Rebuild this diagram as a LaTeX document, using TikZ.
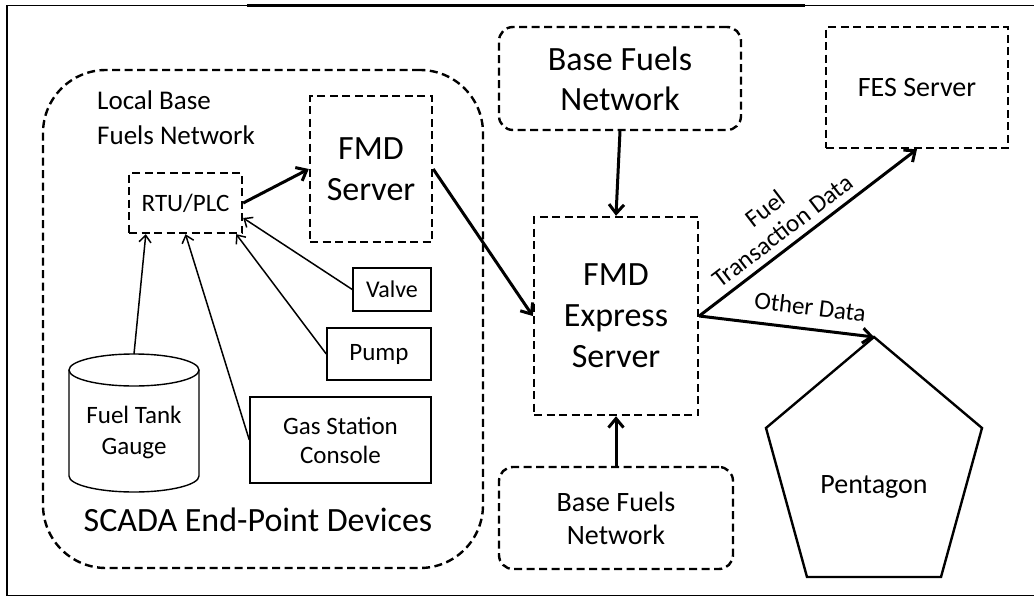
\documentclass[tikz,border=0pt]{standalone}
\usepackage{fontspec}
\setmainfont{Carlito}
\usetikzlibrary{arrows.meta,calc}

\begin{document}
\begin{tikzpicture}[x=1pt, y=-1pt,
  dbox/.style={draw, line width=2.4pt, dash pattern=on 8pt off 4.5pt, inner sep=0pt, align=center},
  sbox/.style={draw, line width=1.4pt, inner sep=0pt, align=center},
  bigarrow/.style={line width=3pt, -{Straight Barb[length=9pt, width=15pt]}},
  smallarrow/.style={line width=1.5pt, -{Straight Barb[length=7pt, width=12pt]}},
  fsz/.style 2 args={font=\fontsize{#1}{#2}\selectfont},
]
\useasboundingbox (0,0) rectangle (1034,597);

% outer frame
\draw[line width=1.5pt] (1034,5.5) -- (7,5.5) -- (7,595.5) -- (1034,595.5);
\draw[line width=3.5pt] (247,5.5) -- (805,5.5);

% local network region
\node[dbox, rounded corners=63pt, minimum width=440pt, minimum height=498pt] (scada) at (263,319) {};
\node[fsz={27}{35}, anchor=west, align=left, inner sep=0pt] (localnet) at (97,118) {Local Base\\Fuels Network};
\node[fsz={34}{40}, inner sep=0pt] (scadalabel) at (258,520) {SCADA End-Point Devices};

% servers and controller
\node[dbox, fsz={34}{41}, minimum width=122pt, minimum height=146pt] (fmd) at (371,169) {FMD\\Server};
\node[dbox, fsz={25}{30}, minimum width=113pt, minimum height=60pt] (rtu) at (185.5,203) {RTU/PLC};

% end-point devices
\node[sbox, fsz={24}{29}, minimum width=78pt, minimum height=43pt] (valve) at (392,289.5) {Valve};
\node[sbox, fsz={25}{29}, minimum width=104pt, minimum height=52pt] (pump) at (379,354) {Pump};
\node[sbox, fsz={25}{29}, minimum width=181pt, minimum height=86pt] (gas) at (340.5,440) {Gas Station\\Console};

% fuel tank gauge (cylinder)
\draw[line width=1.4pt] (69,370) -- (69,476)
  arc[start angle=180, end angle=360, x radius=65pt, y radius=16pt] -- (199,370);
\draw[line width=1.4pt] (134,370) ellipse[x radius=65pt, y radius=16pt];
\coordinate (tanktop) at (134,354);
\node[fsz={25}{31}, align=center, inner sep=0pt] (tank) at (134,432) {Fuel Tank\\Gauge};

% central and remote nodes
\node[dbox, rounded corners=14pt, fsz={34}{40}, minimum width=242pt, minimum height=103pt] (bfn1) at (620,78.5) {Base Fuels\\Network};
\node[dbox, fsz={28}{33}, minimum width=182pt, minimum height=121pt] (fes) at (917,87.5) {FES Server};
\node[dbox, fsz={34}{41}, minimum width=164pt, minimum height=198pt] (fmdx) at (616,316) {FMD\\Express\\Server};
\node[dbox, rounded corners=14pt, fsz={28}{33}, minimum width=234pt, minimum height=102pt] (bfn2) at (616,518) {Base Fuels\\Network};

% pentagon
\draw[line width=2.4pt] (874,337) -- (982,428) -- (941,577) -- (807,577) -- (766,428) -- cycle;
\coordinate (ptop) at (874,337);
\node[fsz={28}{33}, inner sep=0pt] (pent) at (874,487) {Pentagon};

% device links
\draw[smallarrow] (tanktop) -- ([xshift=18pt]rtu.south west);
\draw[smallarrow] (gas.west) -- (rtu.south);
\draw[smallarrow] (pump.west) -- ([xshift=-7pt]rtu.south east);
\draw[smallarrow] (valve.west) -- ([yshift=-15pt]rtu.east);

% data flows
\draw[bigarrow] (rtu.east) -- (fmd.west);
\draw[bigarrow] (fmd.east) -- (fmdx.west);
\draw[bigarrow] (bfn1.south) -- (fmdx.north);
\draw[bigarrow] (bfn2.north) -- (fmdx.south);
\draw[bigarrow] (fmdx.east) -- (fes.south)
  node[pos=0.43, sloped, above=7pt, fsz={25}{28}, align=center, inner sep=0pt] (fuellbl) {Fuel\\Transaction Data};
\draw[bigarrow] (fmdx.east) -- (ptop)
  node[pos=0.62, sloped, above=12pt, fsz={25}{28}, inner sep=0pt] (otherlbl) {Other Data};
\end{tikzpicture}
\end{document}
